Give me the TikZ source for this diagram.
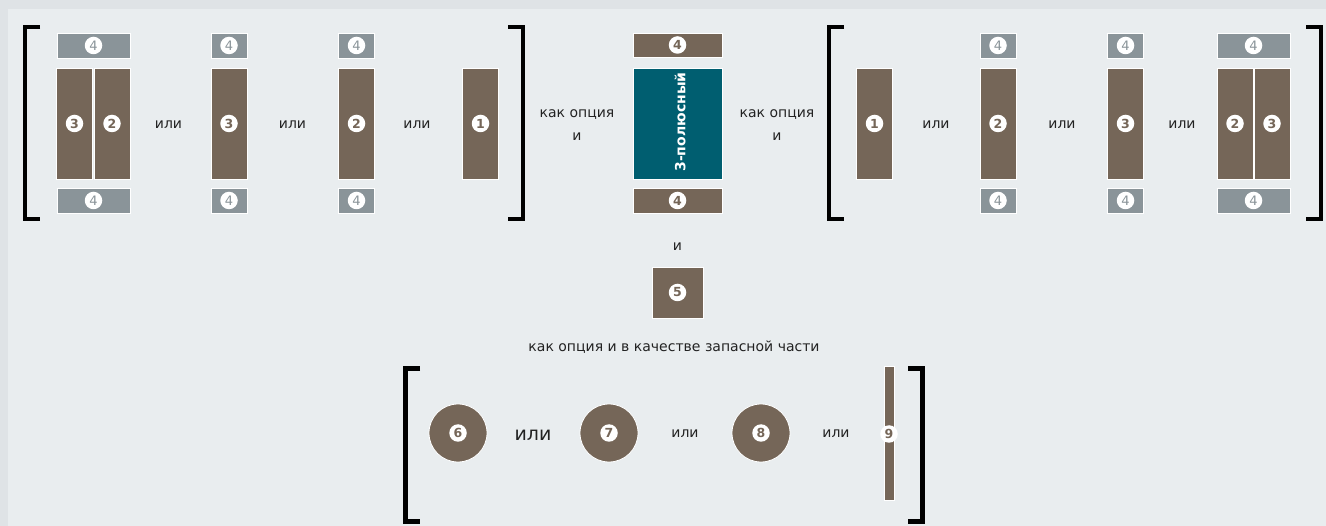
\documentclass[tikz,border=0pt]{standalone}
\usepackage{fontspec}
\setmainfont{DejaVu Sans}
\definecolor{brownc}{HTML}{756658}
\definecolor{grayc}{HTML}{8A9499}
\definecolor{tealc}{HTML}{005E70}
\definecolor{outerbg}{HTML}{DFE3E6}
\definecolor{innerbg}{HTML}{E9EDEF}
\definecolor{txt}{HTML}{222222}
\tikzset{
  box/.style={draw=white, line width=0.8pt, inner sep=0pt, outer sep=0pt},
  brownbox/.style={box, fill=brownc},
  graybox/.style={box, fill=grayc},
  tealbox/.style={box, fill=tealc},
  disc/.style={circle, draw=white, line width=0.8pt, fill=brownc, inner sep=0pt, minimum size=58pt},
  numc/.style={circle, fill=white, inner sep=0pt, minimum size=17.5pt, font=\fontsize{12.5}{12.5}\selectfont\bfseries, text=#1},
  numg/.style={circle, fill=white, inner sep=0pt, minimum size=17.5pt, font=\fontsize{13}{13}\selectfont, text=grayc},
  lbl/.style={font=\fontsize{14}{14}\selectfont, text=txt, inner sep=0pt},
  biglbl/.style={font=\fontsize{19}{19}\selectfont, text=txt, inner sep=0pt},
  twolbl/.style={font=\fontsize{14}{23}\selectfont, text=txt, inner sep=0pt, align=center},
  brk/.style={line width=4pt, draw=black},
  brkb/.style={line width=5pt, draw=black},
}
\begin{document}
\begin{tikzpicture}[x=1pt,y=-1pt]
\useasboundingbox (0,0) rectangle (1326,526);
\fill[outerbg] (0,0) rectangle (1326,526);
\fill[innerbg] (8,9) rectangle (1326,526);

% ---------- left group ----------
\draw[brk] (40,27) -- (25,27) -- (25,219) -- (40,219);
\node[graybox, minimum width=73pt, minimum height=25pt] (g1t) at (93.5,45.5) {};
\node[numg] (g1tn) at (g1t) {4};
\node[brownbox, minimum width=36pt, minimum height=111pt] (g1a) at (74.5,123.5) {};
\node[numc=brownc] (g1an) at (g1a) {3};
\node[brownbox, minimum width=36pt, minimum height=111pt] (g1b) at (112,123.5) {};
\node[numc=brownc] (g1bn) at (g1b) {2};
\node[graybox, minimum width=73pt, minimum height=25pt] (g1d) at (93.5,200.5) {};
\node[numg] (g1dn) at (g1d) {4};
\node[lbl] (or1) at (168.5,125) {или};

\node[graybox, minimum width=36pt, minimum height=25pt] (g2t) at (229,45.5) {};
\node[numg] (g2tn) at (g2t) {4};
\node[brownbox, minimum width=36pt, minimum height=111pt] (g2a) at (229,123.5) {};
\node[numc=brownc] (g2an) at (g2a) {3};
\node[graybox, minimum width=36pt, minimum height=25pt] (g2d) at (229,200.5) {};
\node[numg] (g2dn) at (g2d) {4};
\node[lbl] (or2) at (292.5,125) {или};

\node[graybox, minimum width=36pt, minimum height=25pt] (g3t) at (356.5,45.5) {};
\node[numg] (g3tn) at (g3t) {4};
\node[brownbox, minimum width=36pt, minimum height=111pt] (g3a) at (356.5,123.5) {};
\node[numc=brownc] (g3an) at (g3a) {2};
\node[graybox, minimum width=36pt, minimum height=25pt] (g3d) at (356.5,200.5) {};
\node[numg] (g3dn) at (g3d) {4};
\node[lbl] (or3) at (417,125) {или};

\node[brownbox, minimum width=36pt, minimum height=111pt] (g4a) at (480.5,123.5) {};
\node[numc=brownc] (g4an) at (g4a) {1};
\draw[brk] (508,27) -- (523,27) -- (523,219) -- (508,219);

% ---------- centre ----------
\node[twolbl] (opt1) at (577,125.5) {как опция\\и};
\node[brownbox, minimum width=89pt, minimum height=24pt] (ct) at (677.5,45) {};
\node[numc=brownc] (ctn) at (ct) {4};
\node[tealbox, minimum width=89pt, minimum height=111pt] (cm) at (677.5,123.5) {};
\node[rotate=90, font=\fontsize{14}{14}\selectfont\bfseries, text=white, inner sep=0pt] (cmt) at (680,122) {3-полюсный};
\node[brownbox, minimum width=89pt, minimum height=25pt] (cb) at (677.5,200.5) {};
\node[numc=brownc] (cbn) at (cb) {4};
\node[twolbl] (opt2) at (777,125.5) {как опция\\и};
\node[lbl] (and1) at (677.5,247) {и};
\node[brownbox, minimum width=51pt, minimum height=51pt] (c5) at (677.5,292.5) {};
\node[numc=brownc] (c5n) at (c5) {5};

% ---------- right group ----------
\draw[brk] (844,27) -- (829,27) -- (829,219) -- (844,219);
\node[brownbox, minimum width=36pt, minimum height=111pt] (r1a) at (874.5,123.5) {};
\node[numc=brownc] (r1an) at (r1a) {1};
\node[lbl] (or4) at (936,125) {или};

\node[graybox, minimum width=36pt, minimum height=25pt] (r2t) at (998,45.5) {};
\node[numg] (r2tn) at (r2t) {4};
\node[brownbox, minimum width=36pt, minimum height=111pt] (r2a) at (998,123.5) {};
\node[numc=brownc] (r2an) at (r2a) {2};
\node[graybox, minimum width=36pt, minimum height=25pt] (r2d) at (998,200.5) {};
\node[numg] (r2dn) at (r2d) {4};
\node[lbl] (or5) at (1062,125) {или};

\node[graybox, minimum width=36pt, minimum height=25pt] (r3t) at (1125.5,45.5) {};
\node[numg] (r3tn) at (r3t) {4};
\node[brownbox, minimum width=36pt, minimum height=111pt] (r3a) at (1125.5,123.5) {};
\node[numc=brownc] (r3an) at (r3a) {3};
\node[graybox, minimum width=36pt, minimum height=25pt] (r3d) at (1125.5,200.5) {};
\node[numg] (r3dn) at (r3d) {4};
\node[lbl] (or6) at (1182,125) {или};

\node[graybox, minimum width=73pt, minimum height=25pt] (r4t) at (1253.5,45.5) {};
\node[numg] (r4tn) at (r4t) {4};
\node[brownbox, minimum width=36pt, minimum height=111pt] (r4a) at (1235,123.5) {};
\node[numc=brownc] (r4an) at (r4a) {2};
\node[brownbox, minimum width=36pt, minimum height=111pt] (r4b) at (1272,123.5) {};
\node[numc=brownc] (r4bn) at (r4b) {3};
\node[graybox, minimum width=73pt, minimum height=25pt] (r4d) at (1253.5,200.5) {};
\node[numg] (r4dn) at (r4d) {4};
\draw[brk] (1306,27) -- (1320.5,27) -- (1320.5,219) -- (1306,219);

% ---------- bottom group ----------
\node[lbl] (spare) at (674,347) {как опция и в качестве запасной части};
\draw[brkb] (420,368.5) -- (405.5,368.5) -- (405.5,521.5) -- (420,521.5);
\node[disc] (d6) at (458,433) {};
\node[numc=brownc] (d6n) at (d6) {6};
\node[biglbl] (or7) at (533,435) {или};
\node[disc] (d7) at (609,433) {};
\node[numc=brownc] (d7n) at (d7) {7};
\node[lbl] (or8) at (685,434) {или};
\node[disc] (d8) at (761,433) {};
\node[numc=brownc] (d8n) at (d8) {8};
\node[lbl] (or9) at (836,434) {или};
\node[brownbox, minimum width=10pt, minimum height=134pt] (bar9) at (889,433) {};
\node[numc=brownc] (bar9n) at (889,434) {9};
\draw[brkb] (908,368.5) -- (922,368.5) -- (922,521.5) -- (908,521.5);
\end{tikzpicture}
\end{document}
